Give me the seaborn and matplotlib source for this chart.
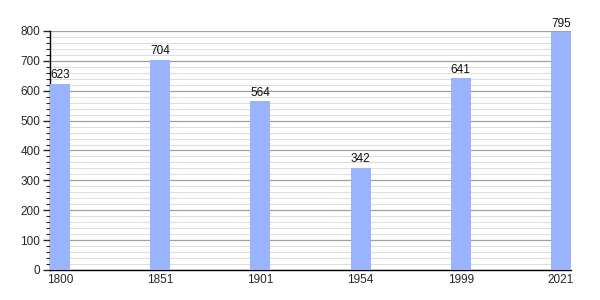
import matplotlib
matplotlib.use("Agg")
import matplotlib.pyplot as plt
import seaborn as sns
import pandas as pd
from matplotlib.ticker import MultipleLocator

years = ["1800", "1851", "1901", "1954", "1999", "2021"]
population = [623, 704, 564, 342, 641, 795]

df = pd.DataFrame({"year": years, "pop": population})

sns.set_style("white")
plt.rcParams['font.family'] = ['Liberation Sans', 'DejaVu Sans']

fig = plt.figure(figsize=(6, 3), dpi=100)
ax = fig.add_axes([0.0833, 0.1, 0.8684, 0.7967])

sns.barplot(data=df, x="year", y="pop", order=years, color="#99b3ff",
            saturation=1, width=0.2, ax=ax, zorder=3, linewidth=0, edgecolor="none")

ax.set_xlim(-0.1, 5.1)
ax.set_ylim(0, 800)
ax.yaxis.set_major_locator(MultipleLocator(100))
ax.yaxis.set_minor_locator(MultipleLocator(20))
ax.grid(which="major", axis="y", color="#a0a0a0", linewidth=0.9, zorder=1)
ax.grid(which="minor", axis="y", color="#dedede", linewidth=0.8, zorder=1)
ax.set_axisbelow(True)

for i, v in enumerate(population):
    ax.text(i, v + 8, str(v), ha="center", va="bottom", fontsize=8.5, color="#111111")

for s in ["top", "right"]:
    ax.spines[s].set_visible(False)
ax.spines["left"].set_color("black")
ax.spines["bottom"].set_color("black")
ax.spines["left"].set_linewidth(1)
ax.spines["bottom"].set_linewidth(1)

ax.tick_params(axis="y", which="major", length=5, width=1, direction="out", left=True, labelsize=8.5, pad=2)
ax.tick_params(axis="y", which="minor", length=3, width=0.8, direction="out", left=True)
ax.tick_params(axis="x", length=0, labelsize=8.5, pad=3)
ax.set_xlabel("")
ax.set_ylabel("")

fig.savefig("out.png", dpi=100)
